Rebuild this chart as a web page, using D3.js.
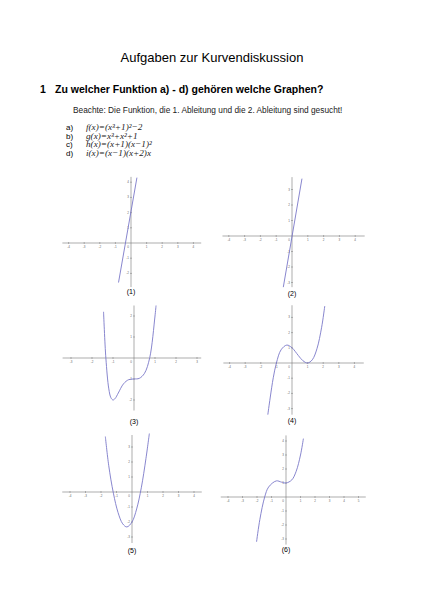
<!DOCTYPE html>
<html><head><meta charset="utf-8">
<script src="https://cdn.jsdelivr.net/npm/d3@7"></script>
<style>body{margin:0;background:#fff}</style>
</head><body>
<div id="graf"></div>
<script>
// Werte
titel = 'Aufgaben zur Kurvendiskussion'
frage = 'Zu welcher Funktion a) - d) gehören welche Graphen?'
hinweis = 'Beachte: Die Funktion, die 1. Ableitung und die 2. Ableitung sind gesucht!'
buchstaben = ['a)', 'b)', 'c)', 'd)']
funktionen = ['f(x)=(x³+1)²−2', 'g(x)=x³+x²+1', 'h(x)=(x+1)(x−1)²', 'i(x)=(x−1)(x+2)x']
graphLabels = ['(1)', '(2)', '(3)', '(4)', '(5)', '(6)']

kurve1 = [[-0.8, -2.6], [0.38, 4.3]]
kurve2 = [[-0.55, -3.3], [0.63, 3.7]]
kurve3 = [[-1.45, 2.2], [-1.34, 0], [-1.2, -1.47], [-1.1, -1.89], [-1, -2], [-0.9, -1.93], [-0.75, -1.67],
          [-0.5, -1.23], [-0.25, -1.03], [0, -1], [0.25, -0.97], [0.5, -0.73], [0.75, 0.02], [1, 2], [1.05, 2.5]]
kurve4 = [[-1.55, -3.4], [-1.4, -2.3], [-1.2, -0.97], [-1, 0], [-0.7, 0.87], [-0.33, 1.18], [0, 1], [0.4, 0.5],
          [0.7, 0.15], [1, 0], [1.3, 0.21], [1.6, 0.94], [1.9, 2.35], [2.1, 3.75]]
kurve5 = [[-1.72, 3.7], [-1.5, 1.75], [-1.2, -0.08], [-0.9, -1.37], [-0.6, -2.12], [-0.33, -2.33], [0, -2],
          [0.3, -1.13], [0.6, 0.28], [0.9, 2.23], [1.12, 3.9]]
kurve6 = [[-2.03, -3.2], [-1.8, -1.59], [-1.47, 0], [-1.2, 0.71], [-0.67, 1.15], [-0.3, 1.06], [0, 1],
          [0.4, 1.22], [0.7, 1.83], [1, 3], [1.2, 4.17]]
kurven = [kurve1, kurve2, kurve3, kurve4, kurve5, kurve6]

ticksX = [[-4, -3, -2, -1, 1, 2, 3, 4], [-4, -3, -2, -1, 1, 2, 3, 4], [-3, -2, -1, 1, 2, 3],
          [-4, -3, -2, -1, 1, 2, 3, 4], [-4, -3, -2, -1, 1, 2, 3, 4], [-4, -3, -2, -1, 1, 2, 3, 4, 5]]
ticksY = [[-2, -1, 1, 2, 3, 4], [-3, -2, -1, 1, 2, 3], [-2, -1, 1, 2],
          [-3, -2, -1, 1, 2, 3], [-3, -2, -1, 1, 2, 3], [-3, -2, -1, 1, 2, 3, 4]]

// Position der Koordinatensysteme (Ursprung, Einheit, Achsenlänge in Einheiten)
boxes = [
  {ox: 131, oy: 243, ux: 15.6, uy: 15.2, x0: -4.4, x1: 4.5, y0: -2.9, y1: 4.35, ly: 294},
  {ox: 292, oy: 236, ux: 15.8, uy: 15.5, x0: -4.4, x1: 4.6, y0: -3.3, y1: 3.8, ly: 296},
  {ox: 134, oy: 358, ux: 21, uy: 21, x0: -3.4, x1: 3.2, y0: -2.5, y1: 2.5, ly: 424},
  {ox: 292, oy: 363, ux: 15.6, uy: 15.2, x0: -4.4, x1: 4.6, y0: -3.4, y1: 3.8, ly: 423},
  {ox: 132, oy: 492, ux: 15.5, uy: 15, x0: -4.5, x1: 4.5, y0: -3.4, y1: 3.8, ly: 553},
  {ox: 286, oy: 497, ux: 14.5, uy: 14, x0: -4.5, x1: 5.5, y0: -3.4, y1: 4.4, ly: 552}
]

svg = d3.select('#graf').append('svg').attr('width', 424).attr('height', 600)
font = 'Liberation Sans, Arial, sans-serif'

svg.append('text').attr('x', 212).attr('y', 62).attr('text-anchor', 'middle')
  .attr('font-family', font).attr('font-size', 13).text(titel)
svg.append('text').attr('x', 40).attr('y', 93).attr('font-family', font)
  .attr('font-size', 10.5).attr('font-weight', 'bold').text('1')
svg.append('text').attr('x', 55).attr('y', 93).attr('font-family', font)
  .attr('font-size', 10.5).attr('font-weight', 'bold').text(frage)
svg.append('text').attr('x', 73).attr('y', 113).attr('font-family', font)
  .attr('font-size', 8.3).attr('fill', '#222').text(hinweis)

buchstaben.forEach((b, i) => {
  svg.append('text').attr('x', 66).attr('y', 130 + i * 8.5).attr('font-family', font)
    .attr('font-size', 8).text(b)
  svg.append('text').attr('x', 86).attr('y', 130 + i * 8.5).attr('font-family', 'Liberation Serif, serif')
    .attr('font-style', 'italic').attr('font-size', 9.2).attr('fill', '#222').text(funktionen[i])
})

boxes.forEach((b, i) => {
  x = d3.scaleLinear().domain([0, 1]).range([b.ox, b.ox + b.ux])
  y = d3.scaleLinear().domain([0, 1]).range([b.oy, b.oy - b.uy])
  g = svg.append('g')

  g.append('line').attr('x1', x(b.x0)).attr('x2', x(b.x1)).attr('y1', y(0)).attr('y2', y(0))
    .attr('stroke', '#777').attr('stroke-width', 0.6)
  g.append('line').attr('x1', x(0)).attr('x2', x(0)).attr('y1', y(b.y0)).attr('y2', y(b.y1))
    .attr('stroke', '#777').attr('stroke-width', 0.6)

  ticksX[i].forEach(t => {
    g.append('line').attr('x1', x(t)).attr('x2', x(t)).attr('y1', y(0) - 1).attr('y2', y(0) + 1)
      .attr('stroke', '#777').attr('stroke-width', 0.5)
    g.append('text').attr('x', x(t)).attr('y', y(0) + 5).attr('text-anchor', 'middle')
      .attr('font-family', font).attr('font-size', 3).attr('fill', '#666').text(t)
  })
  ticksY[i].forEach(t => {
    g.append('line').attr('x1', x(0) - 1).attr('x2', x(0) + 1).attr('y1', y(t)).attr('y2', y(t))
      .attr('stroke', '#777').attr('stroke-width', 0.5)
    g.append('text').attr('x', x(0) - 2).attr('y', y(t) + 1).attr('text-anchor', 'end')
      .attr('font-family', font).attr('font-size', 3).attr('fill', '#666').text(t)
  })
  g.append('text').attr('x', x(0) - 2).attr('y', y(0) + 5).attr('text-anchor', 'end')
    .attr('font-family', font).attr('font-size', 3).attr('fill', '#666').text('0')

  linie = d3.line().x(d => x(d[0])).y(d => y(d[1])).curve(d3.curveCatmullRom)
  g.append('path').datum(kurven[i]).attr('d', linie).attr('fill', 'none')
    .attr('stroke', '#7b78c8').attr('stroke-width', 0.9)

  g.append('text').attr('x', b.ox).attr('y', b.ly).attr('text-anchor', 'middle')
    .attr('font-family', font).attr('font-size', 7).text(graphLabels[i])
})
</script>
</body></html>
